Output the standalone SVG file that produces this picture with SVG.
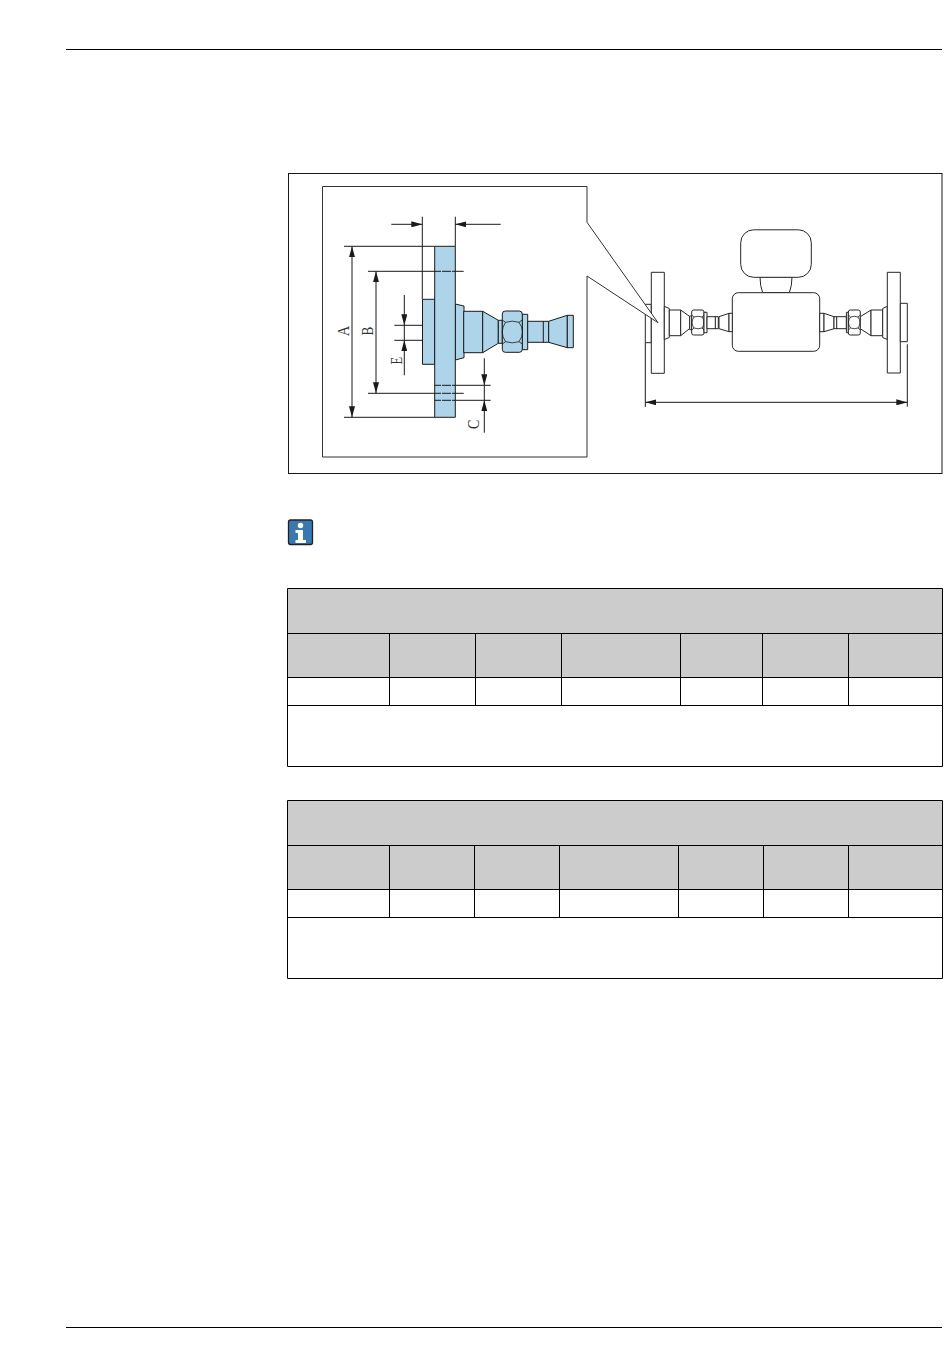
<svg xmlns="http://www.w3.org/2000/svg" width="950" height="1369" viewBox="0 0 950 1369">
<style>
.l{fill:none;stroke:#1a1a1a;stroke-width:1}
.t{fill:none;stroke:#000;stroke-width:1}
.b{fill:#aed4e9;stroke:#1a1a1a;stroke-width:1;stroke-linejoin:round}
.n{fill:none;stroke:#1a1a1a;stroke-width:.8}
.w{fill:#fff;stroke:#262626;stroke-width:1;stroke-linejoin:round}
.g{fill:#cccccc}
.lab{font-family:"Liberation Serif","DejaVu Serif",serif;font-size:16.500px;fill:#333}
</style>
<defs>
<marker id="a" viewBox="0 0 11 6" refX="11" refY="3" markerWidth="11" markerHeight="6" markerUnits="userSpaceOnUse" orient="auto"><path d="M0 0L11 3L0 6Z" fill="#1a1a1a"/></marker>
</defs>
<rect width="950" height="1369" fill="#fff"/>
<g id="page-rules"><path class="t" d="M66 49.500H942M66 1327.500H942"/></g>
<g id="frame"><rect x="288.500" y="173.500" width="653.500" height="300" class="l"/></g>
<g id="meter">
<path class="w" d="M760 277Q760 286 762.700 292.700H789.300Q792 286 792 277Z"/>
<rect class="w" x="740.700" y="229.800" width="70.600" height="47.500" rx="13"/>
<rect class="w" x="732.300" y="292.700" width="87.400" height="58.600" rx="6"/>
<g id="left-flange">
<rect class="w" x="645.300" y="304.300" width="6" height="38.400"/>
<rect class="w" x="651.300" y="272.300" width="13" height="101"/>
<path class="w" d="M664.300 306.300L669.300 308.500V337.500L664.300 339.500Z"/>
<rect class="w" x="669.300" y="310" width="11.400" height="25.700"/>
<path class="w" d="M680.700 310L689.700 316.500V328.500L680.700 335.700Z"/>
<rect class="w" x="689.700" y="316" width="2" height="13.700"/>
<rect class="w" x="691.700" y="310" width="12.300" height="25" rx="2"/>
<path class="n" d="M691.700 315L694 317Q698 315.500 702 317L704 315M691.700 330L694 328Q698 329.500 702 328L704 330M694 317Q690 322.500 694 328M702 317Q706 322.500 702 328"/>
<rect class="w" x="704" y="312.300" width="3" height="20.400"/>
<rect class="w" x="707" y="316.700" width="11.300" height="12"/>
<path class="l" d="M715.300 316.700V328.700"/>
<path class="w" d="M719 316.700L729 313.300V331.700L719 328.700Z"/>
<rect class="w" x="729" y="313.300" width="3.300" height="18.400"/>
</g>
<g id="right-flange">
<rect class="w" x="819.700" y="313.300" width="4.300" height="18.400"/>
<path class="w" d="M824 313.300L834 316.700V328.700L824 331.700Z"/>
<rect class="w" x="834" y="316.700" width="12.400" height="12"/>
<path class="l" d="M836.700 316.700V328.700"/>
<rect class="w" x="846.400" y="312.300" width="2" height="20.400"/>
<rect class="w" x="848.300" y="310" width="12" height="25" rx="2"/>
<path class="n" d="M848.300 315L850.500 317Q854.300 315.500 858 317L860.300 315M848.300 330L850.500 328Q854.300 329.500 858 328L860.300 330M850.500 317Q846.500 322.500 850.500 328M858 317Q862 322.500 858 328"/>
<path class="w" d="M860.300 316.700L871 310V335.700L860.300 328.700Z"/>
<rect class="w" x="871" y="310" width="11.700" height="25.700"/>
<path class="w" d="M882.700 308.500L887.300 306.300V339.500L882.700 337.500Z"/>
<rect class="w" x="887.300" y="272.300" width="13" height="100.700"/>
<rect class="w" x="900.300" y="303.300" width="7" height="38.400"/>
</g>
</g>
<g id="detail-callout">
<path d="M322.500 186.500H587V222.300L658 322.700L587 276V457H322.500Z" fill="#fff" stroke="#333" stroke-width="1"/>
</g>
<g id="detail-part">
<rect class="b" x="422.500" y="299.300" width="12.200" height="65"/>
<path class="b" d="M455.300 304L464 306V357.700L455.300 360Z"/>
<rect class="b" x="463.700" y="311.300" width="19" height="41.400"/>
<path class="b" d="M482.700 311.300L498.300 320.300V343.300L482.700 352.700Z"/>
<rect class="b" x="498.300" y="320.300" width="4" height="23"/>
<rect class="b" x="522.300" y="314.300" width="5.400" height="35.400"/>
<rect class="b" x="502.300" y="311" width="20" height="41.300" rx="3"/>
<path class="n" d="M502.300 320L505.500 322.300Q512.300 320 519 322.300L522.300 320M502.300 344L505.500 341.700Q512.300 344 519 341.700L522.300 344M505.500 322.300Q499 332 505.500 341.700M519 322.300Q526 332 519 341.700"/>
<rect class="b" x="527.700" y="321.300" width="21" height="21"/>
<path class="l" d="M543.300 321.300V342.300"/>
<path class="b" d="M548.700 321.300L567.300 315.300V347.700L548.700 342.300Z"/>
<rect class="b" x="567.300" y="315.300" width="6" height="32.400"/>
<rect class="b" x="434.700" y="246.300" width="20.600" height="171"/>
</g>
<g id="connectors">
<path class="l" d="M422.300 216.700V299.300M455.300 216.700V246.300"/>
<path class="l" marker-end="url(#a)" d="M391.300 224.300H422.300"/>
<path class="l" marker-end="url(#a)" d="M500.700 224.300H455.300"/>
<path class="l" d="M344 246.300H434.700M344 417.300H434.700"/>
<path class="l" d="M352 332V246.300" marker-end="url(#a)"/>
<path class="l" d="M352 332V417.300" marker-end="url(#a)"/>
<path class="l" d="M368 271.300H441M442 271.300H451M452 271.300H463.700M368 393.300H441M442 393.300H451M452 393.300H463.700"/>
<path class="l" marker-end="url(#a)" d="M376 332V271.300"/>
<path class="l" marker-end="url(#a)" d="M376 332V393.300"/>
<path class="l" d="M394.300 325.300H422.500M394.300 340.300H422.500"/>
<path class="l" marker-end="url(#a)" d="M404.300 295V325.300"/>
<path class="l" marker-end="url(#a)" d="M404.300 375.300V340.300"/>
<path class="l" d="M404.300 325.300V340.300"/>
<path class="l" d="M434.700 385.300H441M442 385.300H451M452 385.300H490.700M434.700 400.300H441M442 400.300H451M452 400.300H490.700"/>
<path class="l" marker-end="url(#a)" d="M484.300 358.300V385.300"/>
<path class="l" marker-end="url(#a)" d="M484.300 432.700V400.300"/>
<path class="l" d="M484.300 385.300V400.300"/>
<path class="l" d="M645.300 342.700V407M907.300 344.300V406.700"/>
<path class="l" marker-end="url(#a)" d="M776 402.300H645.300"/>
<path class="l" marker-end="url(#a)" d="M776 402.300H907.300"/>
</g>
<g id="labels">
<text class="lab" transform="translate(349.300 331) rotate(-90) scale(.88 1)" text-anchor="middle">A</text>
<text class="lab" transform="translate(373.300 331) rotate(-90) scale(.8 1)" text-anchor="middle">B</text>
<text class="lab" transform="translate(402 360.700) rotate(-90) scale(.75 1)" text-anchor="middle">E</text>
<text class="lab" transform="translate(479.300 424.300) rotate(-90) scale(.85 1)" text-anchor="middle">C</text>
</g>
<g id="info-icon">
<rect x="288.500" y="520" width="24" height="24.500" rx="2" fill="#3a78b0" stroke="#222" stroke-width="1.300"/>
<circle cx="300.500" cy="525.500" r="2.700" fill="#fff"/>
<path d="M295.500 530H303V540H306V543H295.500V540H298V533H295.500Z" fill="#fff"/>
</g>
<g id="table-1">
<rect class="g" x="288" y="589" width="654" height="88"/>
<path class="t" d="M287.500 588.500H942.500V766.500H287.500ZM287.500 633.500H942.500M287.500 677.500H942.500M287.500 705.500H942.500M389.500 633.500V705.500M475.500 633.500V705.500M561.500 633.500V705.500M680.500 633.500V705.500M762.500 633.500V705.500M848.500 633.500V705.500"/>
</g>
<g id="table-2">
<rect class="g" x="288" y="801" width="654" height="88"/>
<path class="t" d="M287.500 800.500H942.500V978.500H287.500ZM287.500 845.500H942.500M287.500 889.500H942.500M287.500 917.500H942.500M389.500 845.500V917.500M474.500 845.500V917.500M559.500 845.500V917.500M678.500 845.500V917.500M763.500 845.500V917.500M848.500 845.500V917.500"/>
</g>
</svg>
